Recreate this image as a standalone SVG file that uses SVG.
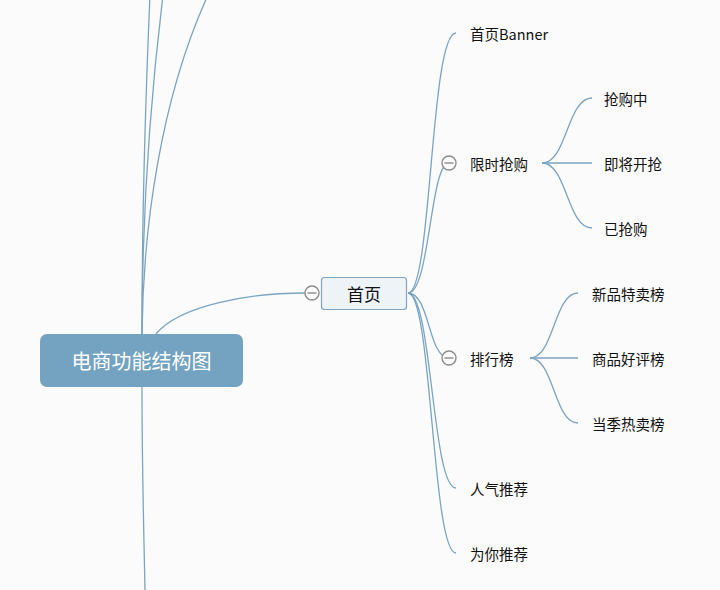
<svg xmlns="http://www.w3.org/2000/svg" width="720" height="590" viewBox="0 0 720 590">
<style>
.bg{fill:#fbfbfb}
.ln{fill:none;stroke:#7ba4c3;stroke-width:1.3}
.t{font-family:"Noto Sans CJK SC","Microsoft YaHei",sans-serif;font-size:14.5px;fill:#111;dominant-baseline:central}
.mc{fill:#fbfbfb;stroke:#8c8c8c;stroke-width:1.4}
.ml{stroke:#8c8c8c;stroke-width:1.4}
</style>
<defs>
<g id="minus"><circle class="mc" cx="0" cy="0" r="7"/><line class="ml" x1="-4.5" y1="0" x2="4.5" y2="0"/></g>
</defs>
<rect class="bg" x="0" y="0" width="720" height="590"/>
<g id="connectors">
<path class="ln" d="M142,334 C142,220 145,110 150,-5"/>
<path class="ln" d="M142,334 C142,230 149,110 163,-5"/>
<path class="ln" d="M142,334 C143,230 160,100 208,-5"/>
<path class="ln" d="M142,387 C142,470 144,540 145,590"/>
<path class="ln" d="M156,334 C180,305 250,293 306,293"/>
<path class="ln" d="M408,293 C432,293 430,33 456,33"/>
<path class="ln" d="M408,293 C430,293 430,163 449,163"/>
<path class="ln" d="M408,293 C430,293 428,358 449,358"/>
<path class="ln" d="M408,293 C432,293 432,488 456,488"/>
<path class="ln" d="M408,293 C432,293 432,553 456,553"/>
<path class="ln" d="M542,163 C567,163 567,98 592,98"/>
<path class="ln" d="M542,163 L592,163"/>
<path class="ln" d="M542,163 C567,163 567,228 592,228"/>
<path class="ln" d="M530,358 C554,358 554,293 578,293"/>
<path class="ln" d="M530,358 L578,358"/>
<path class="ln" d="M530,358 C554,358 554,423 578,423"/>
</g>
<g id="root">
<rect x="40" y="334" width="203" height="53" rx="7" fill="#74a2c1"/>
<text x="141.5" y="360" text-anchor="middle" style="font-family:'Noto Sans CJK SC','Microsoft YaHei',sans-serif;font-size:20px;fill:#fff;dominant-baseline:central">电商功能结构图</text>
</g>
<g id="home">
<rect x="321.5" y="277.5" width="85" height="32" rx="3" fill="#eef3f8" stroke="#7fa5c2" stroke-width="1.2"/>
<text x="364" y="293" text-anchor="middle" class="t" style="font-size:17px">首页</text>
<use href="#minus" x="312" y="293"/>
</g>
<g id="banner"><text x="470" y="33" class="t">首页Banner</text></g>
<g id="flash">
<use href="#minus" x="449" y="163"/>
<text x="470" y="163" class="t">限时抢购</text>
</g>
<g id="flash1"><text x="604" y="98" class="t">抢购中</text></g>
<g id="flash2"><text x="604" y="163" class="t">即将开抢</text></g>
<g id="flash3"><text x="604" y="228" class="t">已抢购</text></g>
<g id="rank">
<use href="#minus" x="449" y="358"/>
<text x="470" y="358" class="t">排行榜</text>
</g>
<g id="rank1"><text x="592" y="293" class="t">新品特卖榜</text></g>
<g id="rank2"><text x="592" y="358" class="t">商品好评榜</text></g>
<g id="rank3"><text x="592" y="423" class="t">当季热卖榜</text></g>
<g id="popular"><text x="470" y="488" class="t">人气推荐</text></g>
<g id="foryou"><text x="470" y="553" class="t">为你推荐</text></g>
</svg>
